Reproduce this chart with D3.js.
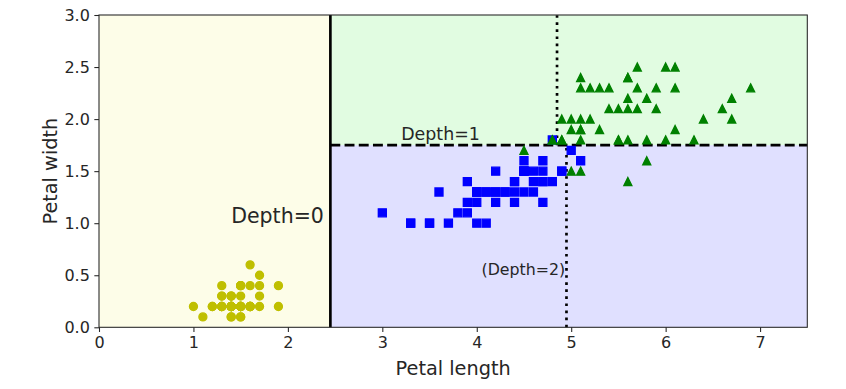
<!DOCTYPE html>
<html>
<head>
<meta charset="utf-8">
<script src="https://cdn.jsdelivr.net/npm/d3@7"></script>
<style>
	body { margin: 0; background: #fff; }
	text { font-family: "DejaVu Sans", sans-serif; fill: #262626; }
</style>
</head>
<body>
<svg id="plot" width="846" height="389"></svg>
<script>
// iris petal length / width for each class
const setosa = [
	[1.4,0.2],[1.4,0.2],[1.3,0.2],[1.5,0.2],[1.4,0.2],[1.7,0.4],[1.4,0.3],[1.5,0.2],[1.4,0.2],[1.5,0.1],
	[1.5,0.2],[1.6,0.2],[1.4,0.1],[1.1,0.1],[1.2,0.2],[1.5,0.4],[1.3,0.4],[1.4,0.3],[1.7,0.3],[1.5,0.3],
	[1.7,0.2],[1.5,0.4],[1.0,0.2],[1.7,0.5],[1.9,0.2],[1.6,0.2],[1.6,0.4],[1.5,0.2],[1.4,0.2],[1.6,0.2],
	[1.6,0.2],[1.5,0.4],[1.5,0.1],[1.4,0.2],[1.5,0.2],[1.2,0.2],[1.3,0.2],[1.4,0.1],[1.3,0.2],[1.5,0.2],
	[1.3,0.3],[1.3,0.3],[1.3,0.2],[1.6,0.6],[1.9,0.4],[1.4,0.3],[1.6,0.2],[1.4,0.2],[1.5,0.2],[1.4,0.2]
];
const versicolor = [
	[4.7,1.4],[4.5,1.5],[4.9,1.5],[4.0,1.3],[4.6,1.5],[4.5,1.3],[4.7,1.6],[3.3,1.0],[4.6,1.3],[3.9,1.4],
	[3.5,1.0],[4.2,1.5],[4.0,1.0],[4.7,1.4],[3.6,1.3],[4.4,1.4],[4.5,1.5],[4.1,1.0],[4.5,1.5],[3.9,1.1],
	[4.8,1.8],[4.0,1.3],[4.9,1.5],[4.7,1.2],[4.3,1.3],[4.4,1.4],[4.8,1.4],[5.0,1.7],[4.5,1.5],[3.5,1.0],
	[3.8,1.1],[3.7,1.0],[3.9,1.2],[5.1,1.6],[4.5,1.5],[4.5,1.6],[4.7,1.5],[4.4,1.3],[4.1,1.3],[4.0,1.3],
	[4.4,1.2],[4.6,1.4],[4.0,1.2],[3.3,1.0],[4.2,1.3],[4.2,1.2],[4.2,1.3],[4.3,1.3],[3.0,1.1],[4.1,1.3]
];
const virginica = [
	[6.0,2.5],[5.1,1.9],[5.9,2.1],[5.6,1.8],[5.8,2.2],[6.6,2.1],[4.5,1.7],[6.3,1.8],[5.8,1.8],[6.1,2.5],
	[5.1,2.0],[5.3,1.9],[5.5,2.1],[5.0,2.0],[5.1,2.4],[5.3,2.3],[5.5,1.8],[6.7,2.2],[6.9,2.3],[5.0,1.5],
	[5.7,2.3],[4.9,2.0],[6.7,2.0],[4.9,1.8],[5.7,2.1],[6.0,1.8],[4.8,1.8],[4.9,1.8],[5.6,2.1],[5.8,1.6],
	[6.1,1.9],[6.4,2.0],[5.6,2.2],[5.1,1.5],[5.6,1.4],[6.1,2.3],[5.6,2.4],[5.5,1.8],[4.8,1.8],[5.4,2.1],
	[5.6,2.4],[5.1,2.3],[5.1,1.9],[5.9,2.3],[5.7,2.5],[5.2,2.3],[5.0,1.9],[5.2,2.0],[5.4,2.3],[5.1,1.8]
];

// tree thresholds
const depth0Split = 2.45;     // petal length
const depth1Split = 1.75;     // petal width
const depth2Splits = [4.95, 4.85];

const xTicks = [0, 1, 2, 3, 4, 5, 6, 7];
const yTicks = [0.0, 0.5, 1.0, 1.5, 2.0, 2.5, 3.0];
const xDomain = [0, 7.5];
const yDomain = [0, 3];

const labels = [
	{ text: "Depth=0", x: 1.40, y: 1.0, size: 20.5 },
	{ text: "Depth=1", x: 3.2, y: 1.80, size: 17.4 },
	{ text: "(Depth=2)", x: 4.05, y: 0.5, size: 15.8 }
];

function drawChart() {
	let svg = d3.select("#plot");

	let x = d3.scaleLinear().domain(xDomain).range([99, 807.3]);
	let y = d3.scaleLinear().domain(yDomain).range([327.3, 15]);

	// decision regions
	let regions = [
		{ x0: xDomain[0], x1: depth0Split, y0: yDomain[0], y1: yDomain[1], fill: "#fdfde8" },
		{ x0: depth0Split, x1: xDomain[1], y0: yDomain[0], y1: depth1Split, fill: "#e0e0ff" },
		{ x0: depth0Split, x1: xDomain[1], y0: depth1Split, y1: yDomain[1], fill: "#e1fce1" }
	];
	svg.selectAll("rect.region").data(regions).enter().append("rect")
		.attr("class", "region")
		.attr("x", d => x(d.x0))
		.attr("y", d => y(d.y1))
		.attr("width", d => x(d.x1) - x(d.x0))
		.attr("height", d => y(d.y0) - y(d.y1))
		.attr("fill", d => d.fill);

	// markers, same order as the original: yellow, blue, green on top
	let triangle = {
		draw: function(ctx, size) {
			let r = Math.sqrt(size) / 2;
			ctx.moveTo(0, -r);
			ctx.lineTo(r, r);
			ctx.lineTo(-r, r);
			ctx.closePath();
		}
	};
	let square = {
		draw: function(ctx, size) {
			let r = Math.sqrt(size) / 2;
			ctx.rect(-r, -r, 2 * r, 2 * r);
		}
	};
	let groups = [
		{ data: setosa, color: "#bfbf00", shape: d3.symbolCircle, size: Math.PI * 16 },
		{ data: versicolor, color: "#0000ff", shape: square, size: 64 },
		{ data: virginica, color: "#008000", shape: triangle, size: 64 }
	];
	svg.append("clipPath").attr("id", "clip").append("rect")
		.attr("x", x(xDomain[0])).attr("y", y(yDomain[1]))
		.attr("width", x(xDomain[1]) - x(xDomain[0]))
		.attr("height", y(yDomain[0]) - y(yDomain[1]));

	let lines = svg.append("g");
	lines.append("line")
		.attr("x1", x(depth0Split)).attr("x2", x(depth0Split))
		.attr("y1", y(yDomain[0])).attr("y2", y(yDomain[1]))
		.attr("stroke", "#000").attr("stroke-width", 2.67);
	lines.append("line")
		.attr("x1", x(depth0Split)).attr("x2", x(xDomain[1]))
		.attr("y1", y(depth1Split)).attr("y2", y(depth1Split))
		.attr("stroke", "#000").attr("stroke-width", 2.67)
		.attr("stroke-dasharray", "9.9 4.3");
	lines.append("line")
		.attr("x1", x(depth2Splits[0])).attr("x2", x(depth2Splits[0]))
		.attr("y1", y(yDomain[0])).attr("y2", y(depth1Split))
		.attr("stroke", "#000").attr("stroke-width", 2.67)
		.attr("stroke-dasharray", "2.67 4.4");
	lines.append("line")
		.attr("x1", x(depth2Splits[1])).attr("x2", x(depth2Splits[1]))
		.attr("y1", y(depth1Split)).attr("y2", y(yDomain[1]))
		.attr("stroke", "#000").attr("stroke-width", 2.67)
		.attr("stroke-dasharray", "2.67 4.4");

	let pts = svg.append("g").attr("clip-path", "url(#clip)");
	groups.forEach(function(g) {
		pts.append("g").selectAll("path").data(g.data).enter().append("path")
			.attr("transform", d => "translate(" + x(d[0]) + "," + y(d[1]) + ")")
			.attr("d", d3.symbol().type(g.shape).size(g.size))
			.attr("fill", g.color)
			.attr("stroke", g.color)
			.attr("stroke-width", 1.33);
	});

	// annotations
	svg.selectAll("text.depth").data(labels).enter().append("text")
		.attr("class", "depth")
		.attr("x", d => x(d.x))
		.attr("y", d => y(d.y))
		.style("font-size", d => d.size + "px")
		.text(d => d.text);

	// axes
	let xAxis = d3.axisBottom(x).tickValues(xTicks).tickFormat(d3.format("d"))
		.tickSize(4.67).tickPadding(4.5).tickSizeOuter(0);
	let yAxis = d3.axisLeft(y).tickValues(yTicks).tickFormat(d3.format(".1f"))
		.tickSize(4.67).tickPadding(4.5).tickSizeOuter(0);

	let gx = svg.append("g").attr("transform", "translate(0," + y(yDomain[0]) + ")").call(xAxis);
	let gy = svg.append("g").attr("transform", "translate(" + x(xDomain[0]) + ",0)").call(yAxis);
	[gx, gy].forEach(function(g) {
		g.select(".domain").remove();
		g.selectAll(".tick line").attr("stroke", "#262626").attr("stroke-width", 1.07);
		g.selectAll(".tick text").style("font-size", "16px")
			.style("font-family", "DejaVu Sans").attr("fill", "#262626");
	});

	// frame
	svg.append("rect")
		.attr("x", x(xDomain[0])).attr("y", y(yDomain[1]))
		.attr("width", x(xDomain[1]) - x(xDomain[0]))
		.attr("height", y(yDomain[0]) - y(yDomain[1]))
		.attr("fill", "none").attr("stroke", "#262626").attr("stroke-width", 1.07);

	svg.append("text")
		.attr("x", (x(xDomain[0]) + x(xDomain[1])) / 2)
		.attr("y", 374.5)
		.attr("text-anchor", "middle")
		.style("font-size", "19.3px")
		.text("Petal length");

	svg.append("text")
		.attr("transform", "translate(56.5," + (y(yDomain[0]) + y(yDomain[1])) / 2 + ") rotate(-90)")
		.attr("text-anchor", "middle")
		.style("font-size", "19.3px")
		.text("Petal width");
}

drawChart();
</script>
</body>
</html>
